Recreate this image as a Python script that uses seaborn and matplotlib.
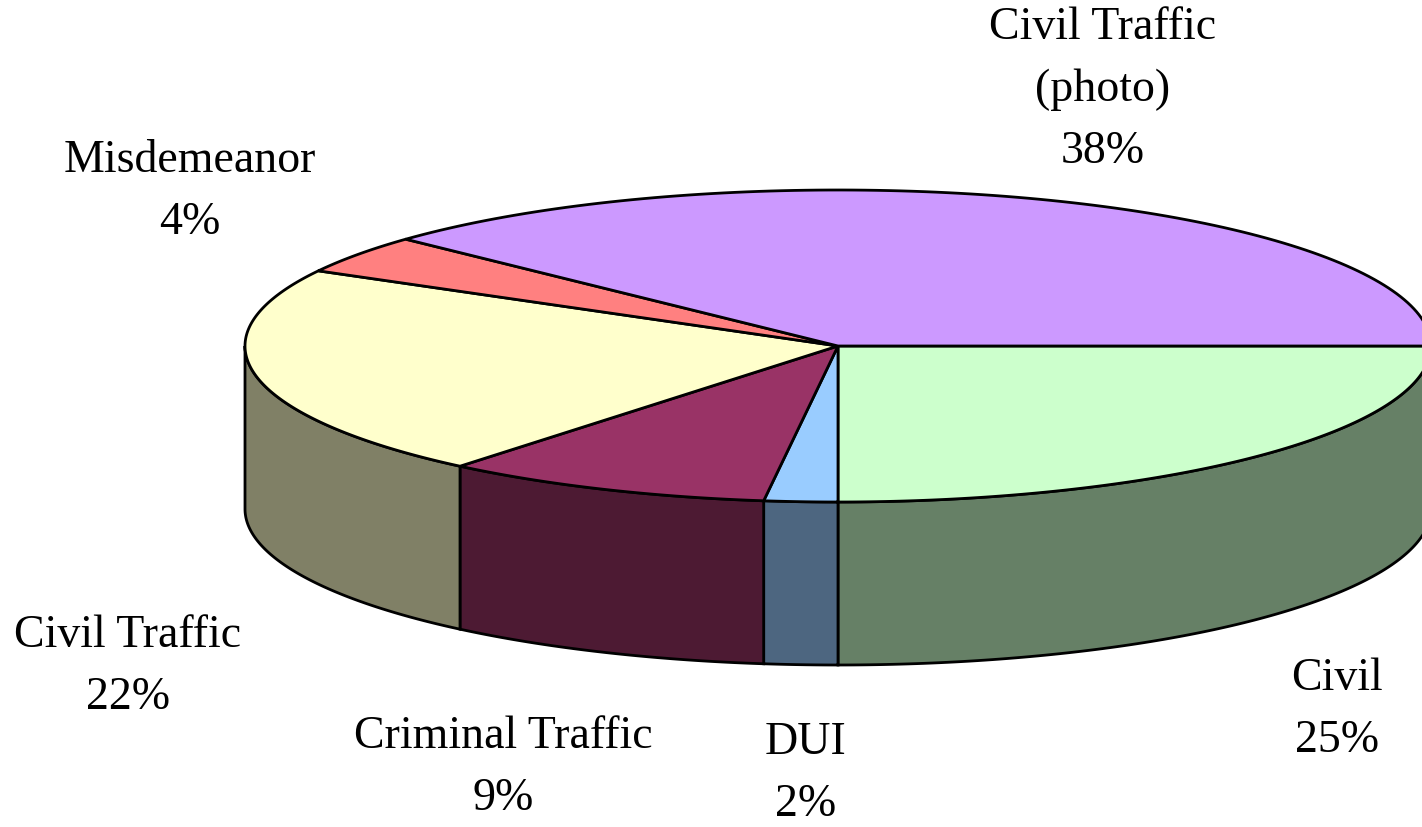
import numpy as np
import matplotlib.pyplot as plt
import seaborn as sns
from matplotlib.patches import Polygon

sns.set_style("white")
plt.rcParams['font.family'] = ['Liberation Serif', 'DejaVu Serif']

# data, clockwise from 3 o'clock
categories = ["Civil", "DUI", "Criminal Traffic", "Civil Traffic", "Misdemeanor", "Civil Traffic\n(photo)"]
shares = [25, 2, 9, 22, 4, 38]
colors = ["#CCFFCC", "#99CCFF", "#993366", "#FFFFCC", "#FF8080", "#CC99FF"]
label_pos = [(1337, 710), (806, 774), (503, 768), (128, 667), (190, 192), (1103, 90)]

# pie geometry in pixel units
cx, cy = 838, 347
rx, ry = 593, 156
depth = 163


def arc(a0, a1, dy=0, n=120):
    t = np.radians(np.linspace(a0, a1, n))
    return np.column_stack([cx + rx * np.cos(t), cy - ry * np.sin(t) + dy])


fig = plt.figure(figsize=(14.22, 8.28), dpi=100)
ax = fig.add_axes([0, 0, 1, 1])
ax.set_xlim(0, 1422)
ax.set_ylim(828, 0)
ax.axis("off")

total = sum(shares)
start = 0.0
spans = []
for s in shares:
    end = start - 360.0 * s / total
    spans.append((start, end))
    start = end

# side walls (front half only)
for (a0, a1), col in zip(spans, colors):
    side = tuple(np.array(plt.matplotlib.colors.to_rgb(col)) * 0.5)
    for shift in (0, -360):
        hi = min(a0, 0 + shift)
        lo = max(a1, -180 + shift)
        if lo < hi:
            top = arc(hi, lo)
            bot = arc(lo, hi, dy=depth)
            ax.add_patch(Polygon(np.vstack([top, bot]), closed=True,
                                 facecolor=side, edgecolor="black", lw=2, zorder=1))

# top faces
for (a0, a1), col in zip(spans, colors):
    pts = np.vstack([[cx, cy], arc(a0, a1)])
    ax.add_patch(Polygon(pts, closed=True, facecolor=col, edgecolor="black",
                         lw=2, zorder=2))

for name, s, (x, y) in zip(categories, shares, label_pos):
    ax.text(x, y, f"{name}\n{s}%", ha="center", va="center", fontsize=33,
            linespacing=1.6, color="black")

fig.savefig("out.png", dpi=100)
